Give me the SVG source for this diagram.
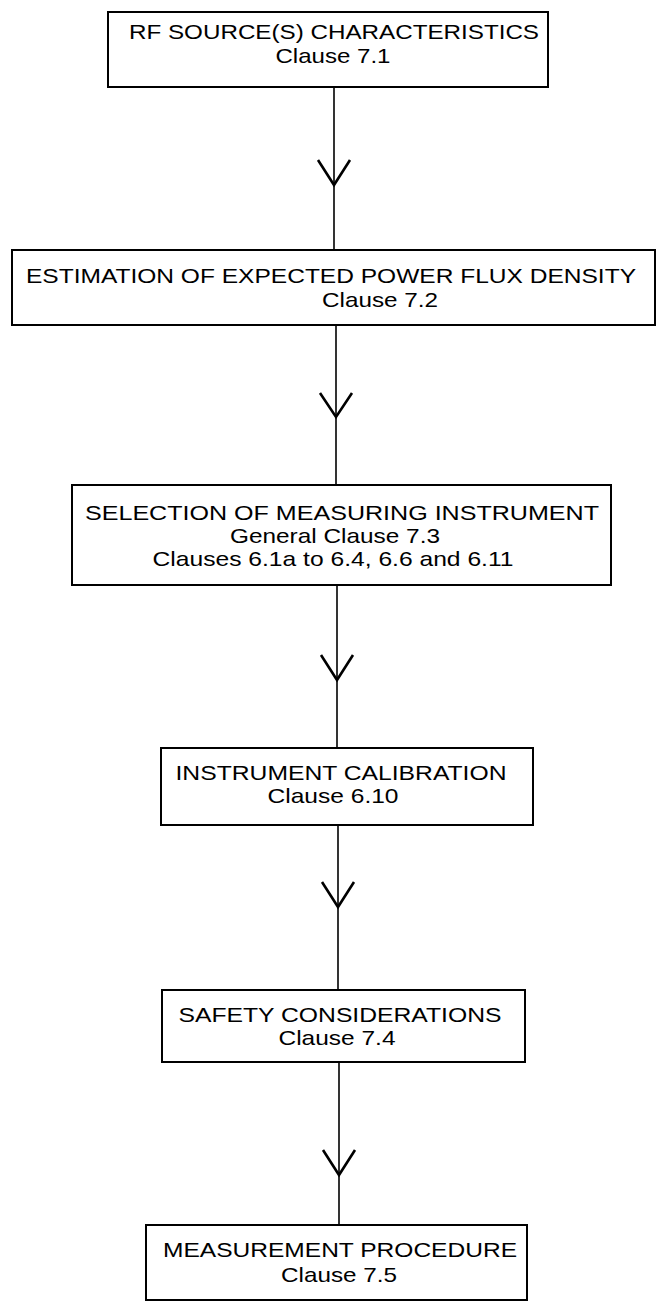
<svg xmlns="http://www.w3.org/2000/svg" width="663" height="1307" viewBox="0 0 663 1307">
<style>
.box{fill:#fff;stroke:#000;stroke-width:2}
.t{font-family:"Liberation Sans",Arial,Helvetica,sans-serif;font-size:21px;fill:#000;text-anchor:middle}
.ln{stroke:#000;stroke-width:1.6;fill:none}
.v{stroke:#000;stroke-width:2.6;fill:none;stroke-linejoin:miter}
</style>
<rect width="663" height="1307" fill="#fff"/>
<g id="connectors">
<line class="ln" x1="334" y1="87" x2="334" y2="250"/>
<polyline class="v" points="318,160 334,185 350,160"/>
<line class="ln" x1="336" y1="325" x2="336" y2="485"/>
<polyline class="v" points="320,393 336,417 352,393"/>
<line class="ln" x1="337" y1="585" x2="337" y2="748"/>
<polyline class="v" points="321,655 337,680 353,655"/>
<line class="ln" x1="338" y1="825" x2="338" y2="990"/>
<polyline class="v" points="322,882 338,907 354,882"/>
<line class="ln" x1="339" y1="1062" x2="339" y2="1225"/>
<polyline class="v" points="323,1150 339,1175 355,1150"/>
</g>
<g id="n1">
<rect class="box" x="108" y="12" width="440" height="75"/>
<text class="t" x="334" y="39" textLength="410" lengthAdjust="spacingAndGlyphs">RF SOURCE(S) CHARACTERISTICS</text>
<text class="t" x="333" y="63" textLength="115" lengthAdjust="spacingAndGlyphs">Clause 7.1</text>
</g>
<g id="n2">
<rect class="box" x="12" y="250" width="643" height="75"/>
<text class="t" x="331" y="283" textLength="610" lengthAdjust="spacingAndGlyphs">ESTIMATION OF EXPECTED POWER FLUX DENSITY</text>
<text class="t" x="380" y="307" textLength="116" lengthAdjust="spacingAndGlyphs">Clause 7.2</text>
</g>
<g id="n3">
<rect class="box" x="72" y="485" width="539" height="100"/>
<text class="t" x="342" y="520" textLength="514" lengthAdjust="spacingAndGlyphs">SELECTION OF MEASURING INSTRUMENT</text>
<text class="t" x="335" y="543" textLength="210" lengthAdjust="spacingAndGlyphs">General Clause 7.3</text>
<text class="t" x="333" y="566" textLength="361" lengthAdjust="spacingAndGlyphs">Clauses 6.1a to 6.4, 6.6 and 6.11</text>
</g>
<g id="n4">
<rect class="box" x="161" y="748" width="372" height="77"/>
<text class="t" x="341" y="780" textLength="331" lengthAdjust="spacingAndGlyphs">INSTRUMENT CALIBRATION</text>
<text class="t" x="333" y="803" textLength="131" lengthAdjust="spacingAndGlyphs">Clause 6.10</text>
</g>
<g id="n5">
<rect class="box" x="162" y="990" width="363" height="72"/>
<text class="t" x="340" y="1022" textLength="323" lengthAdjust="spacingAndGlyphs">SAFETY CONSIDERATIONS</text>
<text class="t" x="337" y="1045" textLength="117" lengthAdjust="spacingAndGlyphs">Clause 7.4</text>
</g>
<g id="n6">
<rect class="box" x="146" y="1225" width="381" height="75"/>
<text class="t" x="340" y="1257" textLength="354" lengthAdjust="spacingAndGlyphs">MEASUREMENT PROCEDURE</text>
<text class="t" x="339" y="1282" textLength="116" lengthAdjust="spacingAndGlyphs">Clause 7.5</text>
</g>
</svg>
